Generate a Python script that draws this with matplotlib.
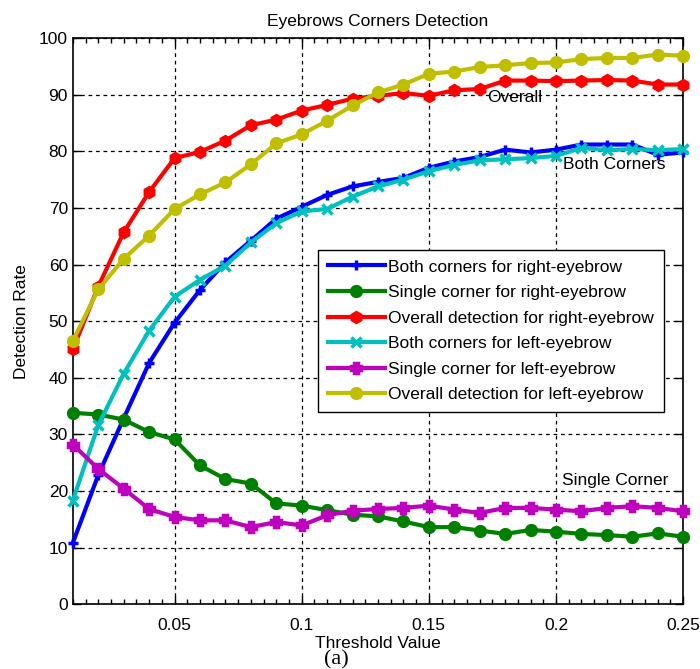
import numpy as np
import matplotlib
matplotlib.use("Agg")
import matplotlib.pyplot as plt
from matplotlib.ticker import MultipleLocator, FixedLocator

plt.rcParams['font.family'] = ['Liberation Sans', 'DejaVu Sans']

threshold = [0.01, 0.02, 0.03, 0.04, 0.05, 0.06, 0.07, 0.08, 0.09, 0.10,
             0.11, 0.12, 0.13, 0.14, 0.15, 0.16, 0.17, 0.18, 0.19, 0.20,
             0.21, 0.22, 0.23, 0.24, 0.25]

both_right = [10.8, 22.8, 32.8, 42.6, 49.7, 55.5, 60.4, 64.2, 68.1, 70.2,
              72.3, 73.8, 74.6, 75.3, 77.1, 78.2, 79.0, 80.3, 79.8, 80.3,
              81.2, 81.2, 81.2, 79.4, 79.8]
single_right = [33.8, 33.5, 32.6, 30.4, 29.1, 24.5, 22.1, 21.3, 17.8, 17.4,
                16.6, 15.8, 15.5, 14.6, 13.6, 13.6, 13.0, 12.4, 13.1, 12.8,
                12.4, 12.2, 11.9, 12.5, 11.9]
overall_right = [45.0, 56.1, 65.7, 72.8, 78.8, 79.9, 81.9, 84.6, 85.6, 87.2,
                 88.2, 89.3, 89.8, 90.3, 89.8, 90.8, 91.0, 92.5, 92.5, 92.4,
                 92.5, 92.6, 92.5, 91.8, 91.8]
both_left = [18.3, 31.6, 40.7, 48.3, 54.3, 57.3, 59.8, 63.9, 67.3, 69.4,
             69.8, 72.0, 73.8, 75.0, 76.5, 77.6, 78.4, 78.6, 78.8, 79.2,
             80.6, 80.2, 80.4, 80.2, 80.4]
single_left = [28.2, 23.9, 20.4, 16.8, 15.4, 14.8, 14.8, 13.6, 14.5, 13.9,
               15.7, 16.5, 16.8, 17.0, 17.4, 16.7, 16.1, 17.0, 17.0, 16.7,
               16.4, 17.0, 17.3, 17.0, 16.4]
overall_left = [46.5, 55.6, 61.0, 65.1, 69.8, 72.4, 74.5, 77.7, 81.4, 83.0,
                85.4, 88.1, 90.4, 91.8, 93.7, 94.1, 94.9, 95.2, 95.6, 95.7,
                96.3, 96.5, 96.5, 97.1, 96.9]

series = [
    (both_right, 'Both corners for right-eyebrow', (0, 0, 1), '+'),
    (single_right, 'Single corner for right-eyebrow', (0, 0.5, 0), 'o'),
    (overall_right, 'Overall detection for right-eyebrow', (1, 0, 0), 'h'),
    (both_left, 'Both corners for left-eyebrow', (0, 0.75, 0.75), 'x'),
    (single_left, 'Single corner for left-eyebrow', (0.75, 0, 0.75), 'P'),
    (overall_left, 'Overall detection for left-eyebrow', (0.75, 0.75, 0), 'o'),
]

fs = 12.5

fig = plt.figure(figsize=(7.0, 6.69), dpi=100)
ax = fig.add_axes([0.104, 0.097, 0.872, 0.846])

for vals, name, col, mk in series:
    ax.plot(threshold, vals, color=col, marker=mk, lw=3.0, ms=7,
            mew=2.5, mec=col, mfc=col, label=name, clip_on=False, zorder=3)

ax.set_xlim(0.01, 0.25)
ax.set_ylim(0, 100)
ax.xaxis.set_major_locator(FixedLocator([0.05, 0.1, 0.15, 0.2, 0.25]))
ax.set_xticklabels(['0.05', '0.1', '0.15', '0.2', '0.25'])
ax.xaxis.set_minor_locator(MultipleLocator(0.005))
ax.yaxis.set_major_locator(MultipleLocator(10))
ax.tick_params(which='both', direction='in', top=True, right=True,
               labelsize=fs, colors='black')
ax.tick_params(which='major', length=6, width=1)
ax.tick_params(which='minor', length=3.5, width=1)
ax.tick_params(axis='x', pad=10)
ax.grid(True, which='major', color='black', linestyle=(0, (3, 3)), lw=0.9)
for s in ax.spines.values():
    s.set_linewidth(1.2)

ax.set_title('Eyebrows Corners Detection', fontsize=fs, pad=9)
ax.set_xlabel('Threshold Value', fontsize=fs, labelpad=2)
ax.set_ylabel('Detection Rate', fontsize=fs, labelpad=7)

ax.text(0.173, 89.5, 'Overall', fontsize=fs, va='center', ha='left')
ax.text(0.2029, 77.6, 'Both Corners', fontsize=fs, va='center', ha='left')
ax.text(0.2025, 21.8, 'Single Corner', fontsize=fs, va='center', ha='left')

leg = ax.legend(loc='upper left', bbox_to_anchor=(0.402, 0.626),
                borderaxespad=0, fontsize=fs, handlelength=3.3,
                labelspacing=0.6, borderpad=0.55, handletextpad=0.2,
                fancybox=False, framealpha=1, edgecolor='black')
leg.get_frame().set_linewidth(1.0)

fig.text(0.481, 0.0, '(a)', fontsize=16, family='Liberation Serif',
         ha='center', va='bottom')

fig.savefig('out.png', dpi=100)
